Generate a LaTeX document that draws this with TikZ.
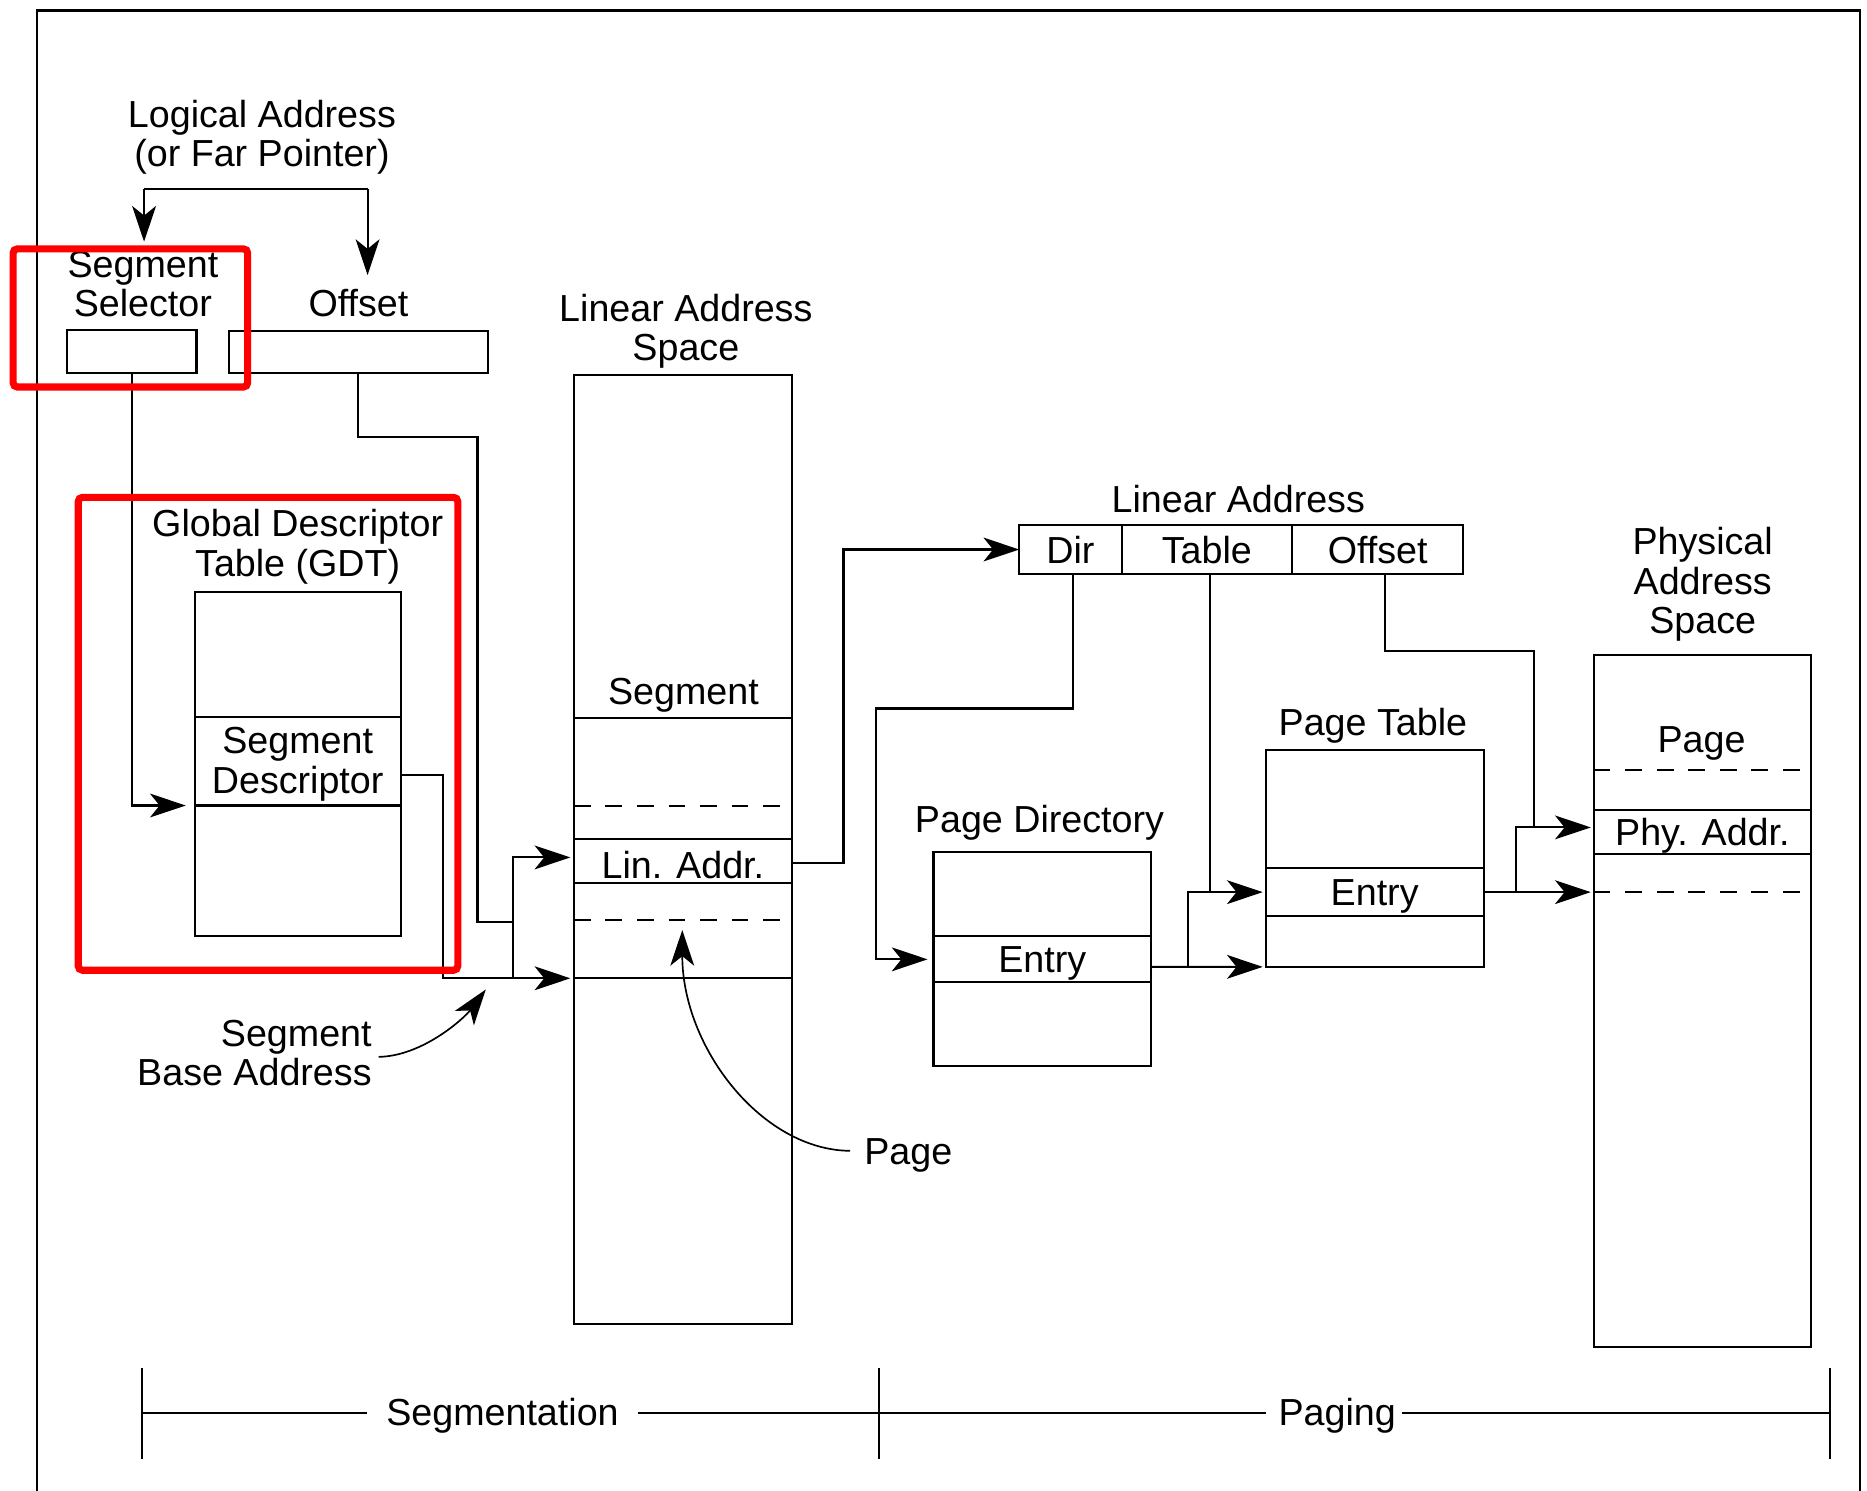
\documentclass[tikz,border=0pt]{standalone}
\usepackage{fontspec}
\setmainfont{Liberation Sans}
\usetikzlibrary{arrows.meta}
\newcommand\labfont{\fontsize{18}{18.8}\selectfont}
\newcommand\mkcell[7][]{\node[cell,minimum width={(#5-#3)*0.02cm},minimum height={(#6-#4)*0.02cm},#1] (#2) at ({(#3+#5)/2},{(#4+#6)/2}) {#7};}
\begin{document}
\begin{tikzpicture}[x=0.02cm,y=-0.02cm,line width=1pt,
  cell/.style={draw,rectangle,inner sep=0pt,outer sep=0pt,text height=12.9pt,text depth=0pt,font=\labfont},
  lbl/.style={inner sep=0pt,align=center,font=\labfont},
  arr/.style={-{Stealth[length=0.6cm,width=0.4cm,inset=0.16cm]}},
  dashline/.style={dash pattern=on 0.28cm off 0.25cm},
  redbox/.style={draw=red,line width=3.4pt,rounded corners=2pt},
  frame/.style={line width=1.2pt}]
\useasboundingbox (0,0) rectangle (1568,1252);
% frame
\draw[frame] (31,1252) -- (31,9) -- (1562,9) -- (1562,1252);

% ---------- labels (base = baseline of last line) ----------
\node[lbl,anchor=base] (logical) at (220,140) {Logical Address\\(or Far Pointer)};
\node[lbl,anchor=base] (sellab) at (120,266) {Segment\\Selector};
\node[lbl,anchor=base] (offlab) at (301,266) {Offset};
\node[lbl,anchor=base] (laslab) at (576,303) {Linear Address\\Space};
\node[lbl,anchor=base] (gdtlab) at (250,484) {Global Descriptor\\Table (GDT)};
\node[lbl,anchor=base] (dsclab) at (250,666) {Segment\\Descriptor};
\node[lbl,anchor=base] (seglab) at (574,591.4) {Segment};
\node[lbl,anchor=base] (linlab) at (1040,430.4) {Linear Address};
\node[lbl,anchor=base] (pdlab) at (873,699.5) {Page Directory};
\node[lbl,anchor=base] (ptlab) at (1153,617.5) {Page Table};
\node[lbl,anchor=base] (physlab) at (1430,532) {Physical\\Address\\Space};
\node[lbl,anchor=base] (ppglab) at (1429,632) {Page};
\node[lbl,anchor=base east,align=right] (sbalab) at (313,912) {Segment\\Base Address};
\node[lbl,anchor=base west] (pglab) at (725,977.6) {Page};
\node[lbl,anchor=base] (segtxt) at (422,1197) {Segmentation};
\node[lbl,anchor=base] (pagtxt) at (1123,1197) {Paging};

% ---------- boxes ----------
\mkcell{sel}{56}{277}{165}{313}{}
\mkcell{off}{192}{278}{410}{313.5}{}
\mkcell{gdt1}{164}{497}{336.6}{602}{}
\mkcell{gdtdesc}{164}{602}{336.6}{676.5}{}
\mkcell{gdt3}{164}{676.5}{336.6}{786}{}
\mkcell{las}{482}{315}{665}{1112}{}
\mkcell[text height=16.6pt]{linaddr}{482}{704.6}{665}{741.6}{Lin. Addr.}
\draw (482,602.7) -- (665,602.7);
\draw[dashline] (482,676.6) -- (665,676.6);
\draw[dashline] (482,773) -- (665,773);
\draw (482,821.6) -- (665,821.6);
\mkcell{dir}{856}{441}{942}{482}{Dir}
\mkcell{tbl}{942}{441}{1085}{482}{Table}
\mkcell{lo}{1085}{441}{1229}{482}{Offset}
\mkcell{pd1}{784}{715.6}{966.6}{786.4}{}
\mkcell{pde}{784}{786.4}{966.6}{825}{Entry}
\mkcell{pd3}{784}{825}{966.6}{895}{}
\mkcell{pt1}{1063}{630}{1246}{729}{}
\mkcell{pte}{1063}{729}{1246}{769.5}{Entry}
\mkcell{pt3}{1063}{769.5}{1246}{812}{}
\mkcell{phys}{1338.5}{550}{1521}{1131}{}
\mkcell{physaddr}{1338.5}{680.3}{1521}{717.5}{Phy. Addr.}
\draw[dashline] (1338.5,646.6) -- (1521,646.6);
\draw[dashline] (1338.5,749.3) -- (1521,749.3);

% ---------- connectors ----------
\coordinate (la-l) at (121,158.8);
\coordinate (la-r) at (308.7,158.8);
\coordinate (selin) at (121,203);
\coordinate (offin) at (308.7,231);
\draw (la-l) -- (la-r);
\draw[arr] (la-l) -- (selin);
\draw[arr] (la-r) -- (offin);

\draw[arr,shorten >=0.16cm] (sel.south) |- (gdt3.north west);

\coordinate (j1) at (401,366.7);
\coordinate (jl) at (431,774.7);
\draw (off.south) |- (j1) |- (jl);

\coordinate (sb) at (372,821.6);
\draw[arr,shorten >=0.06cm] ([yshift=-0.235cm]gdtdesc.east) -| (sb) -- (las.west |- sb);
\coordinate (br) at (431,821.6);
\draw[arr,shorten >=0.06cm] (br) |- ([yshift=0.06cm]linaddr.west);

\coordinate (k1) at (708.4,461.5);
\draw[arr] ([yshift=-0.04cm]linaddr.east) -| (k1) -- (dir.west);

\coordinate (k2) at (736,595);
\draw[arr,shorten >=0.1cm] ([xshift=0.05cm]dir.south) |- (k2) |- (pde.west);

\draw ([xshift=0.06cm]tbl.south) -- ([xshift=0.06cm]tbl.south |- pte.west);

\draw[arr,shorten >=0.05cm] ([yshift=-0.126cm]pde.east) -- (pt3.south west);
\coordinate (k3) at (998,812);
\draw[arr,shorten >=0.05cm] (k3) |- (pte.west);

\draw[arr,shorten >=0.05cm] (pte.east) -- (phys.west |- pte.east);
\coordinate (k4) at (1273,749.25);
\draw[arr,shorten >=0.05cm] (k4) |- ([yshift=0.08cm]physaddr.west);

\coordinate (k5) at (1288.4,546.8);
\coordinate (k6) at (1288.4,694.9);
\draw ([xshift=0.12cm]lo.south) |- (k5) -- (k6);

% curved pointers
\coordinate (sbt) at (408,831);
\draw[arr,line width=0.8pt] ([xshift=0.1cm,yshift=-0.06cm]sbalab.east) .. controls (355,887) and (390,855) .. (sbt);
\coordinate (pgt) at (573,781);
\draw[arr,line width=0.8pt] ([xshift=-0.22cm,yshift=0.07cm]pglab.west) .. controls (640,966) and (573,880) .. (pgt);

% ---------- bottom bar ----------
\coordinate (tk1) at (119,1186.5);
\coordinate (tk2) at (738,1186.5);
\coordinate (tk3) at (1537,1186.5);
\draw[line width=0.8pt] (119,1149) -- (119,1225);
\draw[line width=0.8pt] (738,1149) -- (738,1225);
\draw[line width=0.8pt] (1537,1149) -- (1537,1225);
\draw[line width=1.2pt] (tk1) -- ([xshift=-0.3cm]segtxt.west |- tk1);
\draw[line width=1.2pt] ([xshift=0.3cm]segtxt.east |- tk2) -- (tk2) -- ([xshift=-0.2cm]pagtxt.west |- tk2);
\draw[line width=1.2pt] ([xshift=0.08cm]pagtxt.east |- tk3) -- (tk3);

% ---------- highlight boxes ----------
\draw[redbox] (11,209) rectangle (208,325);
\draw[redbox] (65.7,417.7) rectangle (384.5,814.8);
\end{tikzpicture}
\end{document}
